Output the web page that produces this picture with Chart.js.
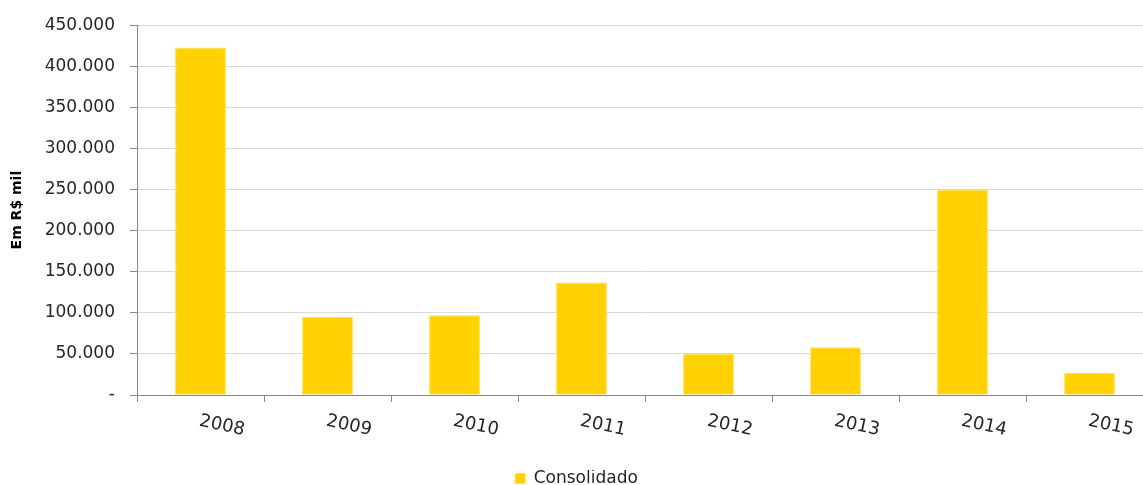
<!DOCTYPE html>
<html>
<head>
<meta charset="utf-8">
<script src="https://cdn.jsdelivr.net/npm/chart.js@4"></script>
<style>
  html, body { margin:0; padding:0; background:#fff; overflow:hidden; }
  #wrap { width:1153px; height:485px; }
</style>
</head>
<body>
<div id="wrap"><canvas id="grafico" width="1153" height="485"></canvas></div>
<script>
// valores (Em R$ mil)
const anos = ['2008','2009','2010','2011','2012','2013','2014','2015'];
const consolidado = [423000, 95000, 97000, 137000, 50000, 58000, 250000, 27000];
const yMax = 450000;
const yPasso = 50000;

function fmt(v){
  if (v === 0) return '-';
  return String(v).replace(/\B(?=(\d{3})+(?!\d))/g, '.');
}

// rótulos do eixo x inclinados para baixo, como no original
const rotulosX = {
  id:'rotulosX',
  afterDraw(chart){
    const ctx = chart.ctx, x = chart.scales.x;
    ctx.save();
    ctx.font = '18px "DejaVu Sans"';
    ctx.fillStyle = '#262626';
    ctx.textAlign = 'left';
    ctx.textBaseline = 'middle';
    anos.forEach((a,i)=>{
      const px = x.getPixelForValue(i);
      ctx.setTransform(1,0,0,1,px-1,421);
      ctx.rotate(12*Math.PI/180);
      ctx.fillText(a,0,0);
    });
    ctx.restore();
  }
};

new Chart(document.getElementById('grafico'), {
  type:'bar',
  data:{ labels:anos, datasets:[{
    label:'Consolidado', data:consolidado,
    backgroundColor:'#FFD100', borderColor:'#FFE04D', borderWidth:1,
    categoryPercentage:1, barPercentage:0.4
  }]},
  options:{
    responsive:false, animation:false, devicePixelRatio:1,
    layout:{ padding:{ top:24, right:0, left:0, bottom:-12 } },
    plugins:{
      tooltip:{ enabled:false },
      legend:{ position:'bottom',
        labels:{ boxWidth:10, boxHeight:10, padding:0, color:'#262626',
          font:{ family:'"DejaVu Sans"', size:17, lineHeight:1 } } }
    },
    scales:{
      x:{
        grid:{ drawOnChartArea:false, tickLength:7, tickColor:'#888', offset:true },
        border:{ color:'#888' },
        ticks:{ color:'rgba(0,0,0,0)', maxRotation:0, font:{ size:16 } },
        afterFit(s){ s.height = 75; }
      },
      y:{
        min:0, max:yMax,
        grid:{ color:'#d9d9d9', tickColor:'#888', tickLength:7 },
        border:{ color:'#888' },
        ticks:{ stepSize:yPasso, padding:15, color:'#262626',
          font:{ family:'"DejaVu Sans"', size:17 }, callback:v=>fmt(v) },
        title:{ display:true, text:'Em R$ mil', color:'#000',
          font:{ family:'"DejaVu Sans"', size:14, weight:'bold' },
          padding:{ top:9, bottom:0 } },
        afterFit(s){ s.width = 137; }
      }
    }
  },
  plugins:[rotulosX]
});
</script>
</body>
</html>
